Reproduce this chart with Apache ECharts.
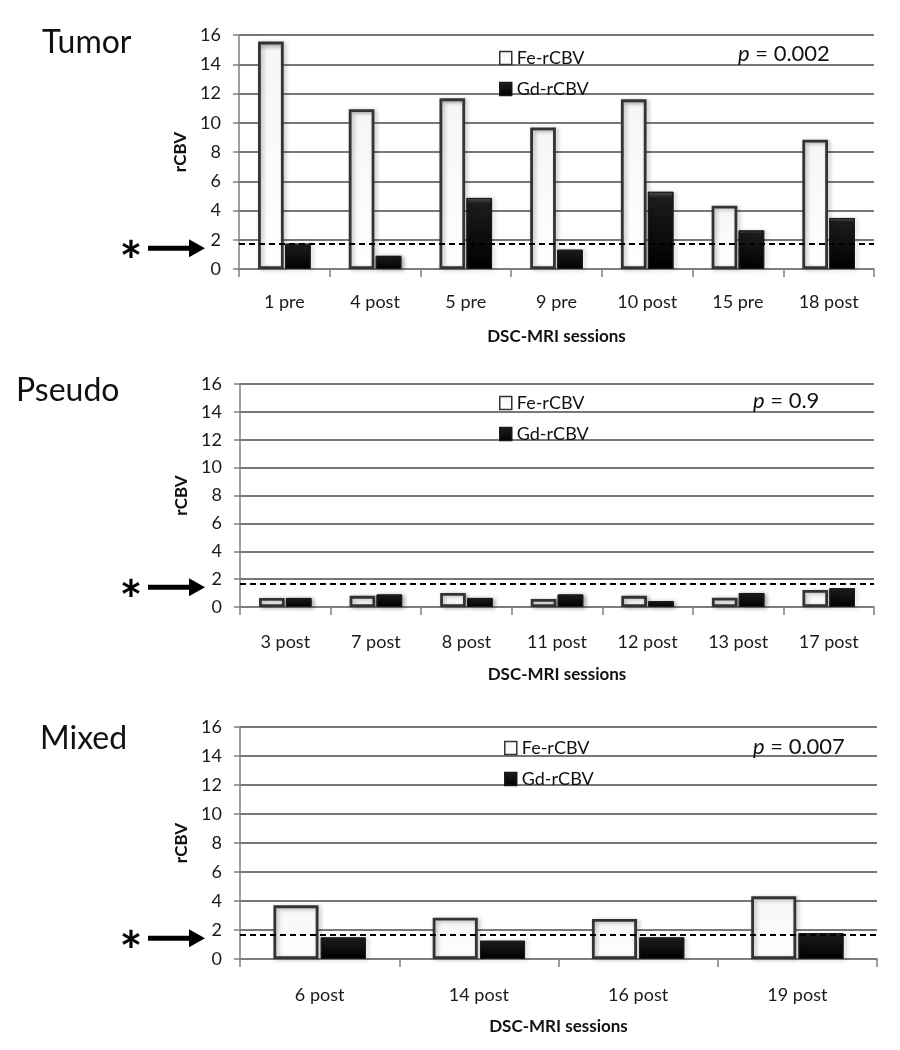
<!DOCTYPE html>
<html>
<head>
<meta charset="utf-8">
<script src="https://cdn.jsdelivr.net/npm/echarts@6/dist/echarts.min.js"></script>
<style>
html,body{margin:0;padding:0;background:#fff;}
#chart{width:900px;height:1050px;}
</style>
</head>
<body>
<div id="chart"></div>
<script>
// ---------------- data ----------------
const tumorCats = ['1 pre', '4 post', '5 pre', '9 pre', '10 post', '15 pre', '18 post'];
const tumorFe = [15.55, 10.93, 11.67, 9.68, 11.6, 4.33, 8.84];
const tumorGd = [1.73, 0.9, 4.86, 1.32, 5.28, 2.64, 3.49];

const pseudoCats = ['3 post', '7 post', '8 post', '11 post', '12 post', '13 post', '17 post'];
const pseudoFe = [0.65, 0.8, 1.0, 0.57, 0.8, 0.67, 1.22];
const pseudoGd = [0.65, 0.9, 0.65, 0.9, 0.42, 1.0, 1.35];

const mixedCats = ['6 post', '14 post', '16 post', '19 post'];
const mixedFe = [3.7, 2.85, 2.76, 4.32];
const mixedGd = [1.49, 1.26, 1.49, 1.79];

const threshold = 1.7;
const yMin = 0, yMax = 16, yStep = 2;
const panelTitles = ['Tumor', 'Pseudo', 'Mixed'];
const pValues = ['0.002', '0.9', '0.007'];
const seriesNames = ['Fe-rCBV', 'Gd-rCBV'];
const xAxisTitle = 'DSC-MRI sessions';
const yAxisTitle = 'rCBV';

// ---------------- layout / style ----------------
const FONT = 'Lato, "Open Sans", sans-serif';
const panels = [
  { cats: tumorCats, fe: tumorFe, gd: tumorGd },
  { cats: pseudoCats, fe: pseudoFe, gd: pseudoGd },
  { cats: mixedCats, fe: mixedFe, gd: mixedGd }
];
const gridBoxes = [
  { left: 239, top: 35, width: 635, height: 234 },
  { left: 240, top: 384, width: 634, height: 223 },
  { left: 240, top: 727, width: 637, height: 232 }
];
const labelMargins = [24, 26, 27];
const titlePos = [{ x: 42, y: 47 }, { x: 16, y: 395 }, { x: 40, y: 743 }];
const pPos = [{ x: 738, y: 54 }, { x: 753, y: 401 }, { x: 753, y: 747 }];
const legendPos = [{ x: 494, y: 43 }, { x: 494, y: 388 }, { x: 499, y: 733 }];

const axisGray = '#7f7f7f';
const feStyle = {
  color: { type: 'linear', x: 0, y: 0, x2: 0, y2: 1,
    colorStops: [{ offset: 0, color: '#bdbdbd' }, { offset: 0.04, color: '#f6f6f6' }, { offset: 1, color: '#ffffff' }] },
  borderColor: '#333333', borderWidth: 2.8,
  shadowBlur: 4, shadowOffsetX: 2, shadowOffsetY: 1, shadowColor: 'rgba(0,0,0,0.3)'
};
const gdStyle = {
  color: { type: 'linear', x: 0, y: 0, x2: 0, y2: 1,
    colorStops: [{ offset: 0, color: '#5a5a5a' }, { offset: 0.08, color: '#1c1c1c' }, { offset: 1, color: '#000000' }] },
  borderColor: '#1a1a1a', borderWidth: 1,
  shadowBlur: 4, shadowOffsetX: 2, shadowOffsetY: 1, shadowColor: 'rgba(0,0,0,0.35)'
};

const grid = [], xAxis = [], yAxis = [], series = [], legend = [];
panels.forEach((p, i) => {
  grid.push(Object.assign({ containLabel: false }, gridBoxes[i]));
  xAxis.push({
    type: 'category', gridIndex: i, data: p.cats,
    axisLine: { lineStyle: { color: axisGray, width: 1.5 } },
    axisTick: { show: true, length: 8, lineStyle: { color: axisGray, width: 1.5 } },
    axisLabel: { interval: 0, color: '#1a1a1a', fontSize: 18, fontFamily: FONT, margin: labelMargins[i] },
    name: xAxisTitle, nameLocation: 'middle', nameGap: 59,
    nameTextStyle: { color: '#111', fontSize: 17, fontWeight: 'bold', fontFamily: FONT }
  });
  yAxis.push({
    type: 'value', gridIndex: i, min: yMin, max: yMax, interval: yStep,
    axisLine: { show: true, lineStyle: { color: axisGray, width: 1.5 } },
    axisTick: { show: true, length: 6, lineStyle: { color: axisGray, width: 1.5 } },
    splitLine: { lineStyle: { color: '#787878', width: 1.8 } },
    axisLabel: { color: '#1a1a1a', fontSize: 18, fontFamily: FONT, margin: 18 },
    name: yAxisTitle, nameLocation: 'middle', nameGap: 42,
    nameTextStyle: { color: '#111', fontSize: 17, fontWeight: 'bold', fontFamily: FONT }
  });
  series.push({
    name: seriesNames[0], type: 'bar', xAxisIndex: i, yAxisIndex: i, data: p.fe,
    barCategoryGap: '42%', barGap: '5%', itemStyle: feStyle, silent: true
  });
  series.push({
    name: seriesNames[1], type: 'bar', xAxisIndex: i, yAxisIndex: i, data: p.gd,
    barCategoryGap: '42%', barGap: '5%', itemStyle: gdStyle, silent: true,
    markLine: {
      silent: true, symbol: 'none', label: { show: false },
      lineStyle: { color: '#000', type: [6, 4], width: 2 },
      data: [{ yAxis: threshold }]
    }
  });
  legend.push({
    data: seriesNames, orient: 'vertical', left: legendPos[i].x, top: legendPos[i].y,
    itemWidth: 12, itemHeight: 13, itemGap: 11, icon: 'rect',
    itemStyle: { borderWidth: 1.5 },
    textStyle: { fontSize: 18, fontFamily: FONT, color: '#111', lineHeight: 20 },
    selectedMode: false
  });
});

const chart = echarts.init(document.getElementById('chart'), null, { renderer: 'canvas' });
chart.setOption({
  backgroundColor: '#ffffff',
  animation: false,
  textStyle: { fontFamily: FONT },
  grid, xAxis, yAxis, series, legend
});

// annotations: panel titles, p-values, asterisk + arrow pointing at the threshold
const graphics = [];
panels.forEach((p, i) => {
  graphics.push({
    type: 'text', left: titlePos[i].x, top: titlePos[i].y - 20,
    style: { text: panelTitles[i], font: '32px ' + FONT, fill: '#111' }
  });
  graphics.push({
    type: 'text', x: pPos[i].x, y: pPos[i].y,
    style: {
      text: '{i|p} = ' + pValues[i], verticalAlign: 'middle', align: 'left',
      rich: { i: { fontStyle: 'italic', fontSize: 22, fontFamily: FONT, fill: '#111' } },
      font: '22px ' + FONT, fill: '#111'
    }
  });
  const py = chart.convertToPixel({ gridIndex: i }, [0, threshold])[1] + 4;
  graphics.push({
    type: 'line', shape: { x1: 148, y1: py, x2: 193, y2: py },
    style: { stroke: '#000', lineWidth: 5 }
  });
  graphics.push({
    type: 'polygon', shape: { points: [[189, py - 9], [205, py], [189, py + 9]] },
    style: { fill: '#000' }
  });
  graphics.push({
    type: 'text', x: 131, y: py + 14,
    style: { text: '*', font: 'bold 54px ' + FONT, fill: '#000', align: 'center', verticalAlign: 'middle' }
  });
});
chart.setOption({ graphic: graphics });
</script>
</body>
</html>
